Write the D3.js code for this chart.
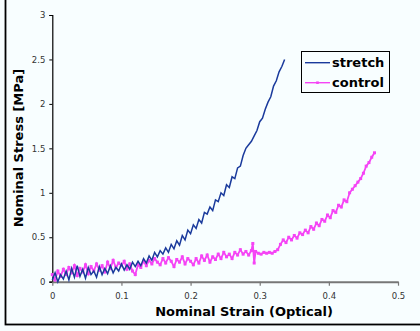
<!DOCTYPE html>
<html><head><meta charset="utf-8">
<script src="https://cdn.jsdelivr.net/npm/d3@7"></script>
<style>html,body{margin:0;padding:0;background:#f8feff;}</style>
</head><body>
<script>
const xTicks = [0, 0.1, 0.2, 0.3, 0.4, 0.5];
const xTickLabels = ["0", "0.1", "0.2", "0.3", "0.4", "0.5"];
const yTicks = [0, 0.5, 1, 1.5, 2, 2.5, 3];
const yTickLabels = ["0", "0.5", "1", "1.5", "2", "2.5", "3"];
const seriesNames = ["stretch", "control"];

const stretchStrain = [0,0.004,0.008,0.012,0.016,0.020,0.024,0.028,0.032,0.036,0.040,0.044,0.048,0.052,0.056,0.060,0.064,0.068,0.072,0.076,0.080,0.084,0.088,0.092,0.096,0.100,0.104,0.108,0.112,0.116,0.120,0.124,0.128,0.132,0.136,0.140,0.144,0.148,0.152,0.156,0.160,0.164,0.168,0.172,0.176,0.180,0.184,0.188,0.192,0.196,0.200,0.204,0.208,0.212,0.216,0.220,0.224,0.228,0.232,0.236,0.240,0.244,0.248,0.252,0.256,0.260,0.264,0.268,0.272,0.276,0.280,0.284,0.288,0.292,0.296,0.300,0.304,0.308,0.312,0.316,0.320,0.324,0.328,0.332,0.336];
const stretchStress = [0.02,0.10,0.00,0.08,0.03,0.12,0.02,0.15,0.05,0.18,0.06,0.14,0.04,0.16,0.08,0.12,0.05,0.17,0.08,0.15,0.09,0.18,0.10,0.16,0.12,0.20,0.13,0.19,0.14,0.22,0.17,0.23,0.18,0.26,0.21,0.29,0.24,0.33,0.28,0.35,0.31,0.38,0.33,0.42,0.37,0.46,0.41,0.52,0.47,0.58,0.54,0.64,0.60,0.70,0.66,0.78,0.76,0.84,0.80,0.92,0.90,1.00,0.97,1.09,1.06,1.18,1.16,1.28,1.30,1.42,1.50,1.54,1.58,1.64,1.70,1.80,1.84,1.94,2.02,2.08,2.20,2.26,2.36,2.42,2.50];

const controlStrain = [0.000,0.004,0.008,0.012,0.016,0.020,0.024,0.028,0.032,0.036,0.040,0.044,0.048,0.052,0.056,0.060,0.064,0.068,0.072,0.076,0.080,0.084,0.088,0.092,0.096,0.100,0.104,0.108,0.112,0.116,0.120,0.124,0.128,0.132,0.136,0.140,0.144,0.148,0.152,0.156,0.160,0.164,0.168,0.172,0.176,0.180,0.184,0.188,0.192,0.196,0.200,0.204,0.208,0.212,0.216,0.220,0.224,0.228,0.232,0.236,0.240,0.244,0.248,0.252,0.256,0.260,0.264,0.268,0.272,0.276,0.280,0.284,0.288,0.290,0.292,0.294,0.298,0.302,0.306,0.310,0.314,0.318,0.322,0.326,0.330,0.334,0.338,0.342,0.346,0.350,0.354,0.358,0.362,0.366,0.370,0.374,0.378,0.382,0.386,0.390,0.394,0.398,0.402,0.406,0.410,0.414,0.418,0.422,0.426,0.430,0.434,0.438,0.442,0.446,0.450,0.454,0.458,0.462,0.466];
const controlStress = [0.08,0.02,0.12,0.06,0.14,0.08,0.16,0.10,0.18,0.07,0.15,0.11,0.19,0.09,0.17,0.12,0.20,0.13,0.18,0.11,0.22,0.15,0.24,0.16,0.21,0.18,0.23,0.14,0.20,0.12,0.08,0.19,0.16,0.23,0.18,0.24,0.20,0.26,0.22,0.19,0.26,0.21,0.27,0.23,0.17,0.25,0.22,0.28,0.20,0.26,0.23,0.19,0.26,0.21,0.29,0.24,0.30,0.22,0.28,0.25,0.31,0.26,0.33,0.28,0.31,0.26,0.33,0.30,0.36,0.31,0.34,0.30,0.35,0.43,0.21,0.34,0.32,0.31,0.33,0.32,0.33,0.32,0.34,0.36,0.42,0.47,0.44,0.50,0.47,0.52,0.49,0.55,0.53,0.58,0.55,0.62,0.59,0.66,0.63,0.70,0.68,0.75,0.72,0.80,0.78,0.86,0.84,0.92,0.90,1.00,1.04,1.08,1.12,1.16,1.22,1.30,1.34,1.40,1.45];

const W = 420, H = 331;
const svg = d3.select("body").append("svg").attr("width", W).attr("height", H)
  .style("display", "block").style("background", "#f8feff");

// outer frame (only left and bottom visible)
svg.append("rect").attr("x", 5.5).attr("y", -10).attr("width", 430).attr("height", 334.5)
  .attr("fill", "none").attr("stroke", "#000").attr("stroke-width", 1.8);

const x = d3.scaleLinear().domain([0, 0.5]).range([52.3, 398]);
const y = d3.scaleLinear().domain([0, 3]).range([281.7, 15]);

const font = "DejaVu Sans, Verdana, sans-serif";

// y axis
const yAxis = svg.append("g").attr("transform", `translate(${x(0)},0)`)
  .call(d3.axisLeft(y).tickValues(yTicks).tickFormat((d, i) => yTickLabels[i]).tickSize(3).tickPadding(4));
yAxis.select(".domain").attr("stroke", "#000").attr("stroke-width", 1.2);
yAxis.selectAll(".tick line").attr("stroke", "#000");
yAxis.selectAll("text").attr("font-family", font).attr("font-size", 8.5).attr("fill", "#333");

// x axis
const xAxis = svg.append("g").attr("transform", `translate(0,${y(0)})`)
  .call(d3.axisBottom(x).tickValues(xTicks).tickFormat((d, i) => xTickLabels[i]).tickSize(4).tickPadding(7).tickSizeOuter(0));
xAxis.select(".domain").attr("stroke", "#777").attr("stroke-width", 2);
xAxis.selectAll(".tick line").attr("stroke", "#777").attr("stroke-width", 1.2);
xAxis.selectAll("text").attr("font-family", font).attr("font-size", 8.5).attr("fill", "#333");

const stretchColor = "#1a3a9c";
const controlColor = "#f544f5";

const controlData = controlStrain.map((s, i) => [s, controlStress[i]]);
const stretchData = stretchStrain.map((s, i) => [s, stretchStress[i]]);
const line = d3.line().x(d => x(d[0])).y(d => y(d[1]));

svg.append("path").datum(controlData).attr("d", line)
  .attr("fill", "none").attr("stroke", controlColor).attr("stroke-width", 1.8);
svg.append("g").selectAll("rect").data(controlData).join("rect")
  .attr("x", d => x(d[0]) - 1.5).attr("y", d => y(d[1]) - 1.5)
  .attr("width", 3).attr("height", 3).attr("fill", controlColor);

svg.append("path").datum(stretchData).attr("d", line)
  .attr("fill", "none").attr("stroke", stretchColor).attr("stroke-width", 1.5);

// axis titles
svg.append("text").attr("x", 244).attr("y", 316).attr("text-anchor", "middle")
  .attr("font-family", font).attr("font-weight", "bold").attr("font-size", 13)
  .attr("fill", "#000").text("Nominal Strain (Optical)");
svg.append("text").attr("transform", "translate(23,148) rotate(-90)").attr("text-anchor", "middle")
  .attr("font-family", font).attr("font-weight", "bold").attr("font-size", 13)
  .attr("fill", "#000").text("Nominal Stress [MPa]");

// legend
const lg = svg.append("g");
lg.append("rect").attr("x", 301.5).attr("y", 51.5).attr("width", 88).attr("height", 41)
  .attr("fill", "#f8feff").attr("stroke", "#000").attr("stroke-width", 1);
const legendColors = [stretchColor, controlColor];
const legendY = [62.7, 82.7];
seriesNames.forEach((name, i) => {
  lg.append("line").attr("x1", 305).attr("x2", 330).attr("y1", legendY[i]).attr("y2", legendY[i])
    .attr("stroke", legendColors[i]).attr("stroke-width", 1.4);
  if (i === 1) lg.append("rect").attr("x", 316.2).attr("y", legendY[i] - 1.3).attr("width", 2.6).attr("height", 2.6).attr("fill", controlColor);
  lg.append("text").attr("x", 332).attr("y", legendY[i] + 4.5)
    .attr("font-family", font).attr("font-weight", "bold").attr("font-size", 13).attr("fill", "#000").text(name);
});
</script>
</body></html>
